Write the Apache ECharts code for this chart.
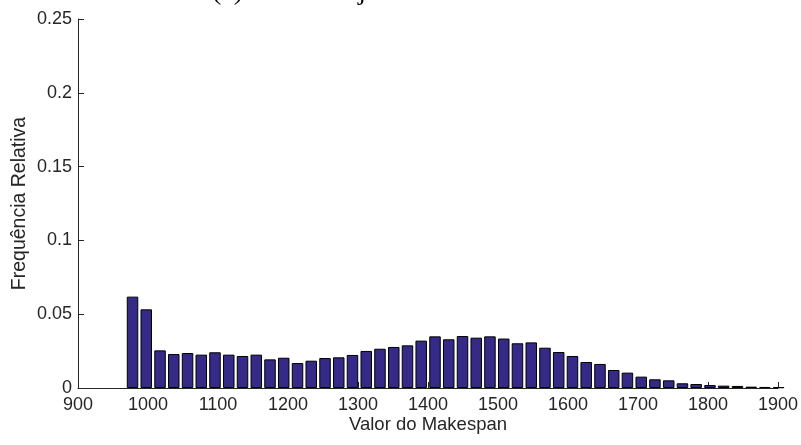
<!DOCTYPE html>
<html>
<head>
<meta charset="utf-8">
<script src="https://cdn.jsdelivr.net/npm/echarts@6/dist/echarts.min.js"></script>
<style>
  html, body { margin: 0; padding: 0; background: #ffffff; }
  #chart { width: 801px; height: 445px; }
</style>
</head>
<body>
<div id="chart"></div>
<script>
// Histogram bin centres (makespan value) and relative frequency per bin
const binCenters = [
  977.9, 997.5, 1017.2, 1036.8, 1056.5, 1076.1, 1095.7, 1115.4, 1135.0, 1154.7,
  1174.3, 1193.9, 1213.6, 1233.2, 1252.9, 1272.5, 1292.1, 1311.8, 1331.4, 1351.1,
  1370.7, 1390.3, 1410.0, 1429.6, 1449.3, 1468.9, 1488.5, 1508.2, 1527.8, 1547.5,
  1567.1, 1586.7, 1606.4, 1626.0, 1645.7, 1665.3, 1684.9, 1704.6, 1724.2, 1743.9,
  1763.5, 1783.1, 1802.8, 1822.4, 1842.1, 1861.7, 1881.3, 1901.0
];
const relFrequency = [
  0.0619, 0.0533, 0.0255, 0.0230, 0.0237, 0.0226, 0.0242, 0.0226, 0.0217, 0.0226,
  0.0194, 0.0205, 0.0169, 0.0185, 0.0203, 0.0208, 0.0224, 0.0251, 0.0266, 0.0278,
  0.0289, 0.0321, 0.0350, 0.0330, 0.0352, 0.0341, 0.0350, 0.0335, 0.0303, 0.0309,
  0.0273, 0.0244, 0.0217, 0.0176, 0.0163, 0.0122, 0.0104, 0.0077, 0.0059, 0.0052,
  0.0032, 0.0027, 0.0020, 0.0016, 0.0014, 0.0009, 0.0007, 0.0005
];

// Axis settings
const xMin = 900, xMax = 1900, xStep = 100;
const yMin = 0, yMax = 0.25, yStep = 0.05;
const xTitle = 'Valor do Makespan';
const yTitle = 'Frequência Relativa';
const plotTitle = '(a) Instância j30';

const ink = '#262626';
const font = '"Liberation Sans", Arial, Helvetica, sans-serif';

const chart = echarts.init(document.getElementById('chart'), null, { renderer: 'canvas' });

chart.setOption({
  animation: false,
  backgroundColor: '#ffffff',
  graphic: [{
    type: 'text',
    left: 212,
    top: -22,
    style: {
      text: plotTitle,
      font: '28px "Liberation Serif", "Times New Roman", serif',
      fill: '#000000'
    }
  }],
  grid: {
    left: 78, right: 23, top: 19, bottom: 57,
    containLabel: false,
    outerBoundsMode: 'none'
  },
  xAxis: {
    type: 'value',
    min: xMin, max: xMax, interval: xStep,
    name: xTitle,
    nameLocation: 'middle',
    nameGap: 27,
    nameMoveOverlap: false,
    nameTextStyle: { fontFamily: font, fontSize: 18.5, color: ink },
    axisLine: { show: true, lineStyle: { color: ink, width: 1 } },
    axisTick: { show: true, inside: true, length: 6, lineStyle: { color: ink } },
    axisLabel: { fontFamily: font, fontSize: 18, color: ink, margin: 8, formatter: v => String(v) },
    splitLine: { show: false }
  },
  yAxis: {
    type: 'value',
    min: yMin, max: yMax, interval: yStep,
    name: yTitle,
    nameLocation: 'middle',
    nameGap: 48,
    nameRotate: 90,
    nameMoveOverlap: false,
    nameTextStyle: { fontFamily: font, fontSize: 19.5, color: ink },
    axisLine: { show: true, lineStyle: { color: ink, width: 1 } },
    axisTick: { show: true, inside: true, length: 6, lineStyle: { color: ink } },
    axisLabel: { fontFamily: font, fontSize: 18, color: ink, margin: 6 },
    splitLine: { show: false }
  },
  series: [{
    type: 'bar',
    data: binCenters.map((c, i) => [c, relFrequency[i]]),
    barWidth: 11.5,
    clip: true,
    itemStyle: {
      color: '#352A87',
      borderColor: '#000000',
      borderWidth: 1
    }
  }]
});
</script>
</body>
</html>
